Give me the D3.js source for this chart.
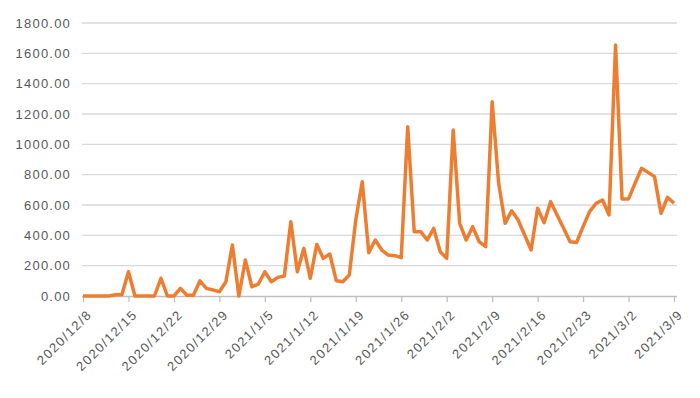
<!DOCTYPE html>
<html lang="zh">
<head>
<meta charset="utf-8">
<title>chart</title>
<script src="https://cdn.jsdelivr.net/npm/d3@7"></script>
<style>
  body { margin: 0; background: #fff; }
  text { font-family: "Liberation Sans", "Noto Sans CJK SC", sans-serif; fill: #595959; }
</style>
</head>
<body>
<script>

// daily values from 2020/12/8 to 2021/3/9
var startDate = "2020-12-08";
var values = [
  0, 0, 0, 0, 0, 8, 10, 160, 0, 0,
  0, 0, 117, 0, 0, 50, 5, 5, 100, 50,
  40, 28, 94, 336, 0, 237, 61, 79, 160, 94,
  123, 132, 490, 160, 314, 117, 340, 248, 277, 101,
  94, 138, 501, 754, 286, 369, 303, 270, 266, 253,
  1116, 424, 424, 369, 446, 292, 248, 1094, 479, 369,
  457, 358, 325, 1281, 743, 479, 562, 501, 402, 303,
  578, 483, 622, 534, 446, 358, 353, 457, 556, 611,
  633, 534, 1655, 640, 640, 743, 842, 815, 787, 545,
  651, 611
];
var yTicks = [0, 200, 400, 600, 800, 1000, 1200, 1400, 1600, 1800];
var xTickLabels = ["2020/12/8", "2020/12/15", "2020/12/22", "2020/12/29", "2021/1/5",
  "2021/1/12", "2021/1/19", "2021/1/26", "2021/2/2", "2021/2/9", "2021/2/16",
  "2021/2/23", "2021/3/2", "2021/3/9"];

var W = 700, H = 398;
var plotL = 82, plotR = 677, plotT = 23, plotB = 296;

var parse = d3.timeParse("%Y-%m-%d");
var t0 = parse(startDate);
var data = values.map(function(v, i) {
  return { date: d3.timeDay.offset(t0, i), value: v };
});

var svg = d3.select("body").append("svg")
  .attr("width", W)
  .attr("height", H);

var x = d3.scaleTime()
  .domain([t0, data[data.length - 1].date])
  .range([plotL + 1, plotR - 3]);

var y = d3.scaleLinear()
  .domain([0, 1800])
  .range([plotB, plotT]);

// gridlines
svg.append("g")
  .selectAll("line")
  .data(yTicks.filter(function(d) { return d > 0; }))
  .enter()
  .append("line")
  .attr("x1", plotL)
  .attr("x2", plotR)
  .attr("y1", function(d) { return y(d); })
  .attr("y2", function(d) { return y(d); })
  .attr("stroke", "#d9d9d9")
  .attr("stroke-width", 1.3);

// y labels
svg.append("g")
  .selectAll("text")
  .data(yTicks)
  .enter()
  .append("text")
  .attr("x", 71)
  .attr("y", function(d) { return y(d); })
  .attr("dy", "0.35em")
  .attr("text-anchor", "end")
  .style("font-size", "13px")
  .style("letter-spacing", "1.2px")
  .text(function(d) { return d3.format(".2f")(d); });

// x axis
var xTickDates = xTickLabels.map(function(s) { return d3.timeParse("%Y/%m/%d")(s); });

var xAxis = d3.axisBottom(x)
  .tickValues(xTickDates)
  .tickSize(6)
  .tickFormat(d3.timeFormat("%Y/%-m/%-d"));

var gx = svg.append("g")
  .attr("transform", "translate(0," + plotB + ")")
  .call(xAxis);

gx.select(".domain")
  .attr("d", "M" + plotL + ",0.5H" + plotR)
  .attr("stroke", "#bfbfbf")
  .attr("stroke-width", 1.3);
gx.selectAll(".tick line").attr("stroke", "#bfbfbf").attr("stroke-width", 1.3);
gx.selectAll(".tick text")
  .attr("fill", "#595959")
  .style("font-size", "13px")
  .style("letter-spacing", "1.5px")
  .style("font-family", "Liberation Sans, sans-serif")
  .attr("text-anchor", "end")
  .attr("transform", "translate(6,16) rotate(-45)")
  .attr("dy", "0.35em")
  .attr("y", 0)
  .attr("x", 0);

// series line
var line = d3.line()
  .x(function(d) { return x(d.date); })
  .y(function(d) { return y(d.value); });

svg.append("path")
  .datum(data)
  .attr("d", line)
  .attr("fill", "none")
  .attr("stroke", "#ed7d31")
  .attr("stroke-width", 3.5)
  .attr("stroke-linejoin", "round");

</script>
</body>
</html>
